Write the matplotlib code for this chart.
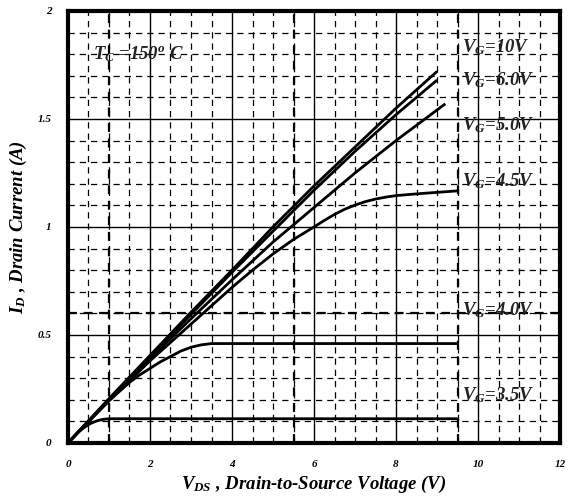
import matplotlib
matplotlib.use("Agg")
import matplotlib.pyplot as plt
import numpy as np

plt.rcParams["font.family"] = ["Liberation Serif", "DejaVu Serif"]
plt.rcParams["mathtext.fontset"] = "custom"
plt.rcParams["mathtext.it"] = "Liberation Serif:bold:italic"
plt.rcParams["mathtext.rm"] = "Liberation Serif:bold:italic"
plt.rcParams["mathtext.bf"] = "Liberation Serif:bold:italic"

# ================== DATA ==================

vds_10 = [0, 1, 2, 3, 4, 5, 6, 7, 8, 9]
id_10 = [0, 0.205, 0.405, 0.605, 0.80, 1.00, 1.19, 1.37, 1.55, 1.72]

vds_6 = [0, 1, 2, 3, 4, 5, 6, 7, 8, 9]
id_6 = [0, 0.20, 0.40, 0.595, 0.79, 0.98, 1.17, 1.35, 1.52, 1.68]

vds_5 = [0, 1, 2, 3, 4, 5, 6, 7, 8, 9.2]
id_5 = [0, 0.20, 0.39, 0.575, 0.755, 0.93, 1.09, 1.25, 1.40, 1.57]

vds_45 = [0, 1, 2, 3, 4, 4.5, 5, 5.5, 6, 6.25, 6.5, 6.75, 7, 7.25, 7.5, 7.75, 8, 8.5, 9, 9.5]
id_45 = [0, 0.195, 0.38, 0.55, 0.72, 0.80, 0.875, 0.942, 1.0, 1.03, 1.058, 1.082, 1.101, 1.117,
         1.129, 1.138, 1.145, 1.153, 1.16, 1.167]

vds_40 = [0, 0.5, 1, 1.5, 1.75, 2, 2.25, 2.5, 2.75, 3, 3.25, 3.5, 9.5]
id_40 = [0, 0.10, 0.195, 0.28, 0.315, 0.345, 0.375, 0.40, 0.425, 0.443, 0.454, 0.46, 0.46]

vds_35 = [0, 0.25, 0.4, 0.55, 0.7, 0.85, 1.0, 9.5]
id_35 = [0, 0.05, 0.072, 0.09, 0.102, 0.109, 0.112, 0.112]

curves = [
    (vds_10, id_10), (vds_6, id_6), (vds_5, id_5),
    (vds_45, id_45), (vds_40, id_40), (vds_35, id_35),
]

label_text = [r"$V_G$=10V", r"$V_G$=6.0V", r"$V_G$=5.0V",
              r"$V_G$=4.5V", r"$V_G$=4.0V", r"$V_G$=3.5V"]
label_y = [1.83, 1.68, 1.47, 1.21, 0.615, 0.22]

x_ticks = [0, 2, 4, 6, 8, 10, 12]
y_ticks = [0, 0.5, 1, 1.5, 2]
y_tick_labels = ["0", "0.5", "1", "1.5", "2"]

# ================== PLOT ==================

fig = plt.figure(figsize=(5.71, 4.96), dpi=100)
ax = fig.add_axes([0.119, 0.107, 0.862, 0.871])

ax.set_xlim(0, 12)
ax.set_ylim(0, 2)

# minor dashed grid
for x in np.arange(0.5, 12, 0.5):
    if x % 2 != 0:
        ax.axvline(x, color="black", lw=0.9, ls=(0, (5, 4)), zorder=1)
for y in np.arange(0.1, 2, 0.1):
    if round(y * 10) % 5 != 0:
        ax.axhline(y, color="black", lw=0.9, ls=(0, (5, 4)), zorder=1)

# major solid grid
for x in [2, 4, 6, 8, 10]:
    ax.axvline(x, color="black", lw=1.0, zorder=1)
for y in [0.5, 1.0, 1.5]:
    ax.axhline(y, color="black", lw=1.0, zorder=1)

# heavy dashed guide lines
for x in [1, 5.5, 9.5]:
    ax.axvline(x, color="black", lw=1.6, ls=(0, (4, 3)), zorder=1)
ax.axhline(0.6, color="black", lw=1.6, ls=(0, (4, 3)), zorder=1)

for vx, vy in curves:
    ax.plot(vx, vy, color="black", lw=2.0, zorder=3, solid_capstyle="butt")

for txt, ty in zip(label_text, label_y):
    ax.text(9.6, ty, txt, fontsize=13.5, color="#222222", va="center", ha="left",
            fontweight="bold", style="italic", zorder=4)

ax.text(0.62, 1.80, r"$T_C$ =150$^o$ C", fontsize=13.5, color="#222222", va="center", ha="left",
        fontweight="bold", style="italic", zorder=4)

ax.set_xticks(x_ticks)
ax.set_xticklabels([str(t) for t in x_ticks], fontsize=8, style="italic", fontweight="bold")
ax.set_yticks(y_ticks)
ax.set_yticklabels(y_tick_labels, fontsize=8, style="italic", fontweight="bold")
ax.tick_params(length=0, pad=12)

for s in ax.spines.values():
    s.set_linewidth(3)

ax.set_xlabel(r"$V_{DS}$ , Drain-to-Source Voltage (V)", fontsize=13.5, labelpad=4,
              fontweight="bold", style="italic")
ax.set_ylabel(r"$I_D$ , Drain Current (A)", fontsize=13.5, labelpad=6,
              fontweight="bold", style="italic")

fig.savefig("out.png", dpi=100)
